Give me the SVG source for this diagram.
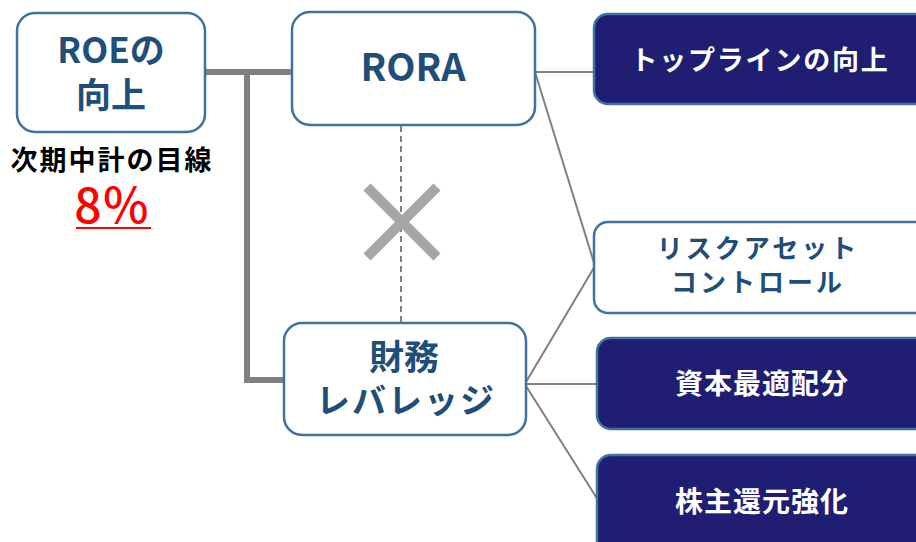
<svg xmlns="http://www.w3.org/2000/svg" width="916" height="542" viewBox="0 0 916 542">
<style>
text{font-family:"Noto Sans CJK JP","Noto Sans",sans-serif;font-weight:bold;text-anchor:middle}
.wb{fill:#ffffff;stroke:#41719c;stroke-width:2.5}
.nb{fill:#201e72;stroke:#41719c;stroke-width:2.5}
.bt{fill:#1f4e79}
.wt{fill:#ffffff}
.thin{stroke:#808080;stroke-width:2;fill:none}
</style>
<rect width="916" height="542" fill="#ffffff"/>
<g id="connectors">
<path d="M205 72 H292 M247 72 V380 H284" stroke="#808080" stroke-width="6" fill="none"/>
<line x1="401" y1="126" x2="401" y2="322" stroke="#808080" stroke-width="2" stroke-dasharray="6,4"/>
<path d="M367 187 L437 257 M437 187 L367 257" stroke="#a6a6a6" stroke-width="10" fill="none"/>
<path class="thin" d="M535 72 H594 M535 72 L595 266 M526 382 L595 266 M526 384 H598 M526 386 L598 500"/>
</g>
<g id="roe">
<rect class="wb" x="17" y="13" width="188" height="119" rx="18"/>
<text class="bt" x="111" y="63" font-size="35">ROEの</text>
<text class="bt" x="111" y="108" font-size="35">向上</text>
</g>
<g id="target">
<text x="112" y="170" font-size="27" letter-spacing="2" fill="#000000">次期中計の目線</text>
<text x="112" y="223" font-size="48" fill="#ff0000" style="font-weight:500">8％</text>
<line x1="76" y1="228" x2="151" y2="228" stroke="#ff0000" stroke-width="2"/>
</g>
<g id="rora">
<rect class="wb" x="292" y="12" width="243" height="113" rx="18"/>
<text class="bt" x="413" y="81" font-size="38">RORA</text>
</g>
<g id="zaimu">
<rect class="wb" x="284" y="323" width="242" height="112" rx="18"/>
<text class="bt" x="404" y="370" font-size="35">財務</text>
<text class="bt" x="406" y="413" font-size="34" letter-spacing="2">レバレッジ</text>
</g>
<g id="topline">
<rect class="nb" x="594" y="14" width="340" height="90" rx="14"/>
<text class="wt" x="760" y="70" font-size="27" letter-spacing="1.8">トップラインの向上</text>
</g>
<g id="risk">
<rect class="wb" x="594" y="222" width="340" height="91" rx="14"/>
<text class="bt" x="758" y="258" font-size="26" letter-spacing="3">リスクアセット</text>
<text class="bt" x="758" y="292" font-size="26" letter-spacing="3">コントロール</text>
</g>
<g id="capital">
<rect class="nb" x="597" y="338" width="340" height="91" rx="14"/>
<text class="wt" x="762" y="394" font-size="28" letter-spacing="1">資本最適配分</text>
</g>
<g id="shareholder">
<rect class="nb" x="597" y="455" width="340" height="100" rx="14"/>
<text class="wt" x="762" y="512" font-size="28" letter-spacing="1">株主還元強化</text>
</g>
</svg>
